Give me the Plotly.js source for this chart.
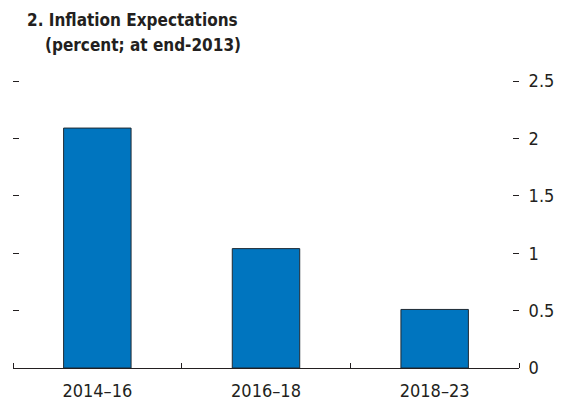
<!DOCTYPE html>
<html>
<head>
<meta charset="utf-8">
<script src="https://cdn.plot.ly/plotly-3.0.1.min.js"></script>
<style>html,body{margin:0;padding:0;background:#fff;}#chart{width:566px;height:404px;}</style>
</head>
<body>
<div id="chart"></div>
<script>
const categories = ["2014–16", "2016–18", "2018–23"];
const expectations = [2.09, 1.04, 0.51];
const yTickValues = [0, 0.5, 1, 1.5, 2, 2.5];
const yTickLabels = ["0", "0.5", "1", "1.5", "2", "2.5"];
const categoryIndex = [0, 1, 2];
const boundaryTicks = [-0.5, 0.5, 1.5, 2.5];
const titleLine1 = "2. Inflation Expectations";
const titleLine2 = "(percent; at end-2013)";

const FONT = '"DejaVu Sans Condensed", "Liberation Sans Narrow", sans-serif';
const INK = '#231f20';
const PLOT_L = 13, PLOT_R = 519, PLOT_T = 80.5, PLOT_B = 368.5;
const PW = PLOT_R - PLOT_L, PH = PLOT_B - PLOT_T;

const data = [
  {
    type: 'bar',
    x: categories,
    y: expectations,
    width: 0.4,
    marker: {color: '#0075bf', line: {color: '#1f2a33', width: 1}},
    hoverinfo: 'none'
  },
  {
    type: 'scatter',
    mode: 'markers',
    x: categoryIndex,
    y: expectations,
    xaxis: 'x2',
    yaxis: 'y2',
    marker: {opacity: 0},
    hoverinfo: 'none',
    showlegend: false
  }
];

const layout = {
  width: 566,
  height: 404,
  margin: {l: PLOT_L, r: 566 - PLOT_R, t: PLOT_T, b: 404 - PLOT_B},
  paper_bgcolor: '#fff',
  plot_bgcolor: '#fff',
  showlegend: false,
  font: {family: FONT, color: INK, size: 18},
  xaxis: {
    type: 'category',
    range: [-0.5, 2.5],
    showline: true,
    linecolor: INK,
    linewidth: 1,
    ticks: '',
    showgrid: false,
    zeroline: false,
    ticklabelstandoff: 6,
    tickfont: {family: FONT, size: 18, color: INK}
  },
  xaxis2: {
    overlaying: 'x',
    side: 'top',
    anchor: 'free',
    position: 0,
    range: [-0.5, 2.5],
    tickvals: boundaryTicks,
    ticks: 'outside',
    ticklen: 5,
    tickcolor: INK,
    tickwidth: 1,
    showticklabels: false,
    showline: false,
    showgrid: false,
    zeroline: false
  },
  yaxis: {
    side: 'right',
    anchor: 'free',
    position: (PLOT_R - 7 - PLOT_L) / PW,
    range: [0, 2.5],
    tickvals: yTickValues,
    ticktext: yTickLabels,
    ticks: 'outside',
    ticklen: 6,
    tickcolor: INK,
    tickwidth: 1,
    showline: false,
    showgrid: false,
    zeroline: false,
    ticklabelstandoff: 6,
    tickfont: {family: FONT, size: 18, color: INK}
  },
  yaxis2: {
    overlaying: 'y',
    side: 'left',
    anchor: 'free',
    position: 6 / PW,
    range: [0, 2.5],
    tickvals: yTickValues,
    ticks: 'outside',
    ticklen: 6,
    tickcolor: INK,
    tickwidth: 1,
    showticklabels: false,
    showline: false,
    showgrid: false,
    zeroline: false
  },
  annotations: [
    {
      text: '<b>' + titleLine1 + '</b>',
      xref: 'paper', yref: 'paper',
      x: (25 - PLOT_L) / PW, y: 1 + (PLOT_T - 19) / PH,
      xanchor: 'left', yanchor: 'middle',
      showarrow: false,
      font: {family: FONT, size: 17, color: INK}
    },
    {
      text: '<b>' + titleLine2 + '</b>',
      xref: 'paper', yref: 'paper',
      x: (43 - PLOT_L) / PW, y: 1 + (PLOT_T - 44) / PH,
      xanchor: 'left', yanchor: 'middle',
      showarrow: false,
      font: {family: FONT, size: 17, color: INK}
    }
  ]
};

Plotly.newPlot('chart', data, layout, {displayModeBar: false, staticPlot: true});
</script>
</body>
</html>
